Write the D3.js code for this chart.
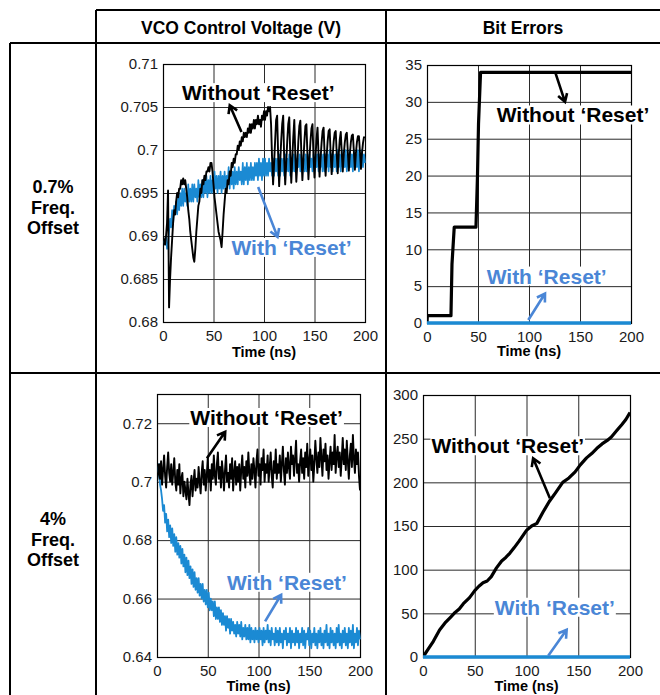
<!DOCTYPE html>
<html>
<head>
<meta charset="utf-8">
<script src="https://cdn.jsdelivr.net/npm/d3@7"></script>
<style>
  body { margin: 0; background: #fff; }
  svg { display: block; }
</style>
</head>
<body>
<svg id="chart" width="660" height="695"></svg>
<script>
// ---- data -------------------------------------------------------------

// shared time axis (ns)
var timeDomain = [0, 200];
var timeTicks = [0, 50, 100, 150, 200];

// simulator traces are sampled every 1 ns, 0..200 ns
var sampleTimes = d3.range(0, 201, 1);

// 0.7% offset, VCO control voltage, in mV
var vco07Ticks = [680, 685, 690, 695, 700, 705, 710];
var vco07TickLabels = ["0.68", "0.685", "0.69", "0.695", "0.7", "0.705", "0.71"];

var vco07Without = [
  690, 689.5, 689, 690, 691.5, 695.3, 681.7, 685, 687.5, 689.5,
  691.5, 693, 692.5, 694, 695, 694.5, 695.5, 695.5, 696.5, 696,
  696.7, 696, 696.5, 695.5, 694.5, 693, 692, 690.5, 689.5, 688.5,
  687.5, 687, 688.5, 690.5, 692, 693.5, 694, 695.5, 695, 696.5,
  696, 697, 696.5, 697.5, 697.5, 698, 697.5, 698.5, 698.5, 697.5,
  696, 694.5, 693.5, 692.5, 691.5, 690.5, 690, 689.5, 688.7, 690.5,
  692.5, 694, 695.5, 695, 696.5, 696, 697.5, 697, 698.5, 698,
  699, 698.5, 699.5, 699.5, 700.5, 700, 701, 700.5, 701.5, 701,
  702, 701.5, 702, 701.5, 702.5, 702, 703, 702, 703, 702.5,
  703.5, 702.5, 703.5, 703, 704, 703, 703.5, 702.7, 704, 703.5,
  704.5, 703.5, 704.5, 704, 705, 704.5, 705, 703, 699,
  696, 698.5, 701, 703.5, 704, 699.5,
  695.8, 698.5, 701, 703, 704, 699,
  696, 698.5, 701, 703, 703.8, 699.5,
  696.2, 699, 701.5, 703.5, 699.5,
  696.3, 698.5, 701, 702.8, 703.4, 699.5,
  696.5, 698.8, 701, 702.8, 703, 699.5,
  696.6, 699, 701, 702.5, 703, 699.3,
  696.8, 699.2, 701.3, 702.6, 699.5,
  696.9, 699, 700.8, 702.2, 702.6, 699.5,
  697, 699.2, 701, 702.2, 702.4, 699.6,
  697.2, 699.3, 701, 702, 702.2, 699.6,
  697.3, 699.5, 701.2, 702.1, 699.7,
  697.5, 699.5, 700.9, 701.8, 702, 699.8,
  697.6, 699.5, 700.9, 701.7, 701.8, 699.8,
  697.7, 699.6, 700.9, 701.6, 701.6, 699.8,
  697.8, 699.6, 700.8, 701.5, 701.4
];

var vco07With = [
  690, 689.5, 689, 690, 688.5, 689, 690.5, 692, 691, 693,
  691.5, 693.5, 692.5, 694, 692.5, 694.5, 693, 695, 693.5, 695.5,
  693.5, 695.5, 694, 695, 693.5, 696, 694, 695.5, 694, 696,
  694, 696, 694.5, 695.5, 694, 696.5, 694.5, 696, 694.5, 696.5,
  694.5, 696.5, 695, 697, 694.5, 696.5, 695, 697, 695, 696.5,
  695, 697.5, 695.5, 697, 695, 697, 695.5, 697.5, 695, 697,
  695.5, 697.5, 695.5, 697, 696, 698, 695.5, 697.5, 696, 697.5,
  695.5, 698, 696, 697.5, 696, 698, 696.5, 697.5, 696, 698.5,
  696, 698, 696.5, 698.5, 696, 698, 696.5, 698.5, 696.5, 698,
  696.5, 698.5, 697, 698.5, 696.5, 699, 697, 698.5, 696.5, 699,
  697, 699, 697, 698.5, 697, 699, 697.5, 698.5, 697, 699,
  697, 699, 697.5, 699, 697, 699.5, 697, 699, 697.5, 699,
  697, 699.5, 697.5, 699, 697.5, 699.5, 697, 699, 697.5, 699.5,
  697.5, 699.5, 697.5, 699, 698, 699.5, 697.5, 699.5, 698, 699,
  697.5, 699.5, 697.5, 699.5, 697.5, 699.5, 698, 699, 697.5, 699.5,
  697.5, 699.5, 698, 699.5, 697.5, 699.5, 698, 699.5, 697.5, 699.5,
  697.5, 699.5, 698, 699.5, 697.5, 700, 698, 699.5, 697.5, 699.5,
  698, 699.5, 697.5, 700, 698, 699.5, 697.5, 700, 698, 699.5,
  698, 700, 697.5, 699.5, 698, 700, 698, 699.5, 697.5, 700,
  698, 699.5, 698, 700, 697.5, 699.5, 698, 700, 698, 699.5, 698.5
];

// 0.7% offset, bit errors
var bits07Ticks = [0, 5, 10, 15, 20, 25, 30, 35];
var bits07Times = [0, 0.3, 23.5, 24.5, 26.7, 48, 49.5, 50.5, 52.5, 200];
var bits07Without = [0, 1, 1, 8, 13, 13, 20, 27, 34, 34];
var bits07WithTimes = [0, 200];
var bits07With = [0, 0];

// 4% offset, VCO control voltage, in mV
var vco4Ticks = [640, 660, 680, 700, 720];
var vco4TickLabels = ["0.64", "0.66", "0.68", "0.7", "0.72"];

var vco4Without = [
  700, 703, 706, 701, 707, 699, 704, 709, 702, 698,
  705, 710, 703, 700, 706, 699, 703, 708, 700, 697,
  704, 699, 706, 696, 701, 703, 695, 700, 697, 694,
  701, 696, 692, 699, 702, 695, 700, 704, 697, 701,
  698, 705, 700, 696, 703, 707, 699, 704, 697, 702,
  708, 700, 704, 697, 706, 701, 709, 702, 699, 706,
  710, 701, 705, 698, 707, 703, 697, 704, 709, 700,
  703, 698, 706, 701, 708, 697, 703, 707, 699, 705,
  700, 706, 697, 704, 709, 701, 705, 698, 707, 702,
  710, 703, 699, 706, 701, 708, 704, 698, 707, 711,
  702, 706, 699, 708, 704, 711, 700, 706, 703, 709,
  700, 705, 710, 702, 698, 707, 703, 711, 701, 706,
  703, 709, 700, 706, 712, 704, 699, 708, 703, 710,
  705, 701, 712, 706, 709, 702, 708, 714, 703, 706,
  700, 707, 711, 703, 708, 701, 710, 705, 713, 702,
  707, 711, 704, 709, 700, 706, 714, 708, 703, 710,
  705, 715, 708, 702, 711, 707, 713, 704, 709, 701,
  707, 712, 704, 710, 706, 716, 703, 709, 712, 705,
  710, 702, 708, 715, 706, 711, 704, 714, 707, 701,
  709, 713, 705, 716, 708, 703, 711, 706, 710, 702, 697
];

var vco4With = [
  700, 703, 706, 699, 697, 694, 690, 692, 686, 689,
  683, 687, 681, 685, 679, 684, 678, 682, 676, 681,
  675, 679, 674, 678, 672, 677, 671, 675, 669, 674,
  668, 673, 667, 671, 665, 670, 664, 669, 663, 667,
  662, 667, 661, 665, 660, 665, 659, 663, 658, 663,
  657, 662, 656, 660, 656, 659, 654, 659, 653, 657,
  653, 657, 652, 656, 651, 655, 651, 654, 649, 654,
  650, 653, 648, 653, 649, 652, 648, 651, 647, 652,
  648, 651, 647, 652, 646, 650, 647, 651, 646, 650,
  646, 651, 645, 650, 646, 649, 645, 650, 646, 649,
  645, 650, 646, 649, 644, 650, 645, 649, 646, 651,
  645, 649, 644, 650, 646, 648, 644, 650, 645, 649,
  644, 650, 645, 648, 643, 649, 646, 650, 644, 648,
  645, 650, 643, 649, 645, 648, 644, 650, 645, 649,
  643, 648, 645, 650, 644, 649, 643, 648, 646, 650,
  644, 649, 643, 648, 645, 650, 644, 648, 643, 649,
  645, 650, 644, 648, 643, 649, 645, 651, 644, 648,
  643, 650, 645, 649, 644, 648, 643, 650, 645, 651,
  644, 648, 643, 649, 645, 650, 644, 648, 643, 650,
  645, 649, 644, 651, 643, 648, 645, 650, 644, 649, 646
];

// 4% offset, bit errors
var bits4Ticks = [0, 50, 100, 150, 200, 250, 300];
var bits4Times = [0, 5, 10, 16, 22, 27, 31, 35, 39, 45, 50, 54, 58, 62, 66, 71, 76, 80, 84, 88,
  93, 100, 105, 110, 116, 122, 128, 135, 141, 147, 152, 158, 163, 168, 173, 178, 182, 187, 192, 196, 200];
var bits4Without = [0, 9, 18, 31, 40, 46, 51, 55, 61, 68, 76, 81, 85, 87, 92, 102, 110, 114, 119, 125,
  133, 145, 150, 153, 166, 178, 188, 200, 205, 212, 220, 228, 233, 239, 244, 248, 252, 259, 266, 272, 280];
var bits4WithTimes = [0, 200];
var bits4With = [0, 0];

// ---- drawing ----------------------------------------------------------

var FONT = "'Liberation Sans', Arial, Helvetica, sans-serif";
var BLUE_LINE = "#1b8ad3";
var BLUE_TEXT = "#4a86d6";
var svg = d3.select("#chart");

// table rules
var rules = [
  [96, 10, 660, 10], [96, 10, 96, 695], [386, 10, 386, 695],
  [10, 43, 660, 43], [10, 43, 10, 695], [10, 373, 660, 373]
];
svg.append("g").selectAll("line")
  .data(rules).enter().append("line")
  .attr("x1", d => d[0]).attr("y1", d => d[1])
  .attr("x2", d => d[2]).attr("y2", d => d[3])
  .attr("stroke", "#000").attr("stroke-width", 2);

// column headers
svg.append("text").attr("x", 241).attr("y", 34).text("VCO Control Voltage (V)");
svg.append("text").attr("x", 523).attr("y", 34).text("Bit Errors");
svg.selectAll("text")
  .attr("text-anchor", "middle")
  .style("font-family", FONT).style("font-weight", "bold").style("font-size", "17.5px");

// row headers
function rowHeader(lines, y0) {
  var t = svg.append("text")
    .attr("text-anchor", "middle")
    .style("font-family", FONT).style("font-weight", "bold").style("font-size", "18px");
  lines.forEach(function(s, i) {
    t.append("tspan").attr("x", 53).attr("y", y0 + i * 20.5).text(s);
  });
}
rowHeader(["0.7%", "Freq.", "Offset"], 193);
rowHeader(["4%", "Freq.", "Offset"], 525);

function zip(times, values) {
  return times.map(function(t, i) { return { t: t, v: values[i] }; });
}

// open "V" arrowhead at the end of a straight arrow
function arrow(g, x1, y1, x2, y2, color) {
  var a = Math.atan2(y2 - y1, x2 - x1), L = 9;
  var path = "M" + x1 + "," + y1 + "L" + x2 + "," + y2 +
    "M" + (x2 - L * Math.cos(a - 0.55)) + "," + (y2 - L * Math.sin(a - 0.55)) +
    "L" + x2 + "," + y2 +
    "L" + (x2 - L * Math.cos(a + 0.55)) + "," + (y2 - L * Math.sin(a + 0.55));
  g.append("path").attr("d", path)
    .attr("fill", "none").attr("stroke", color)
    .attr("stroke-width", 2.6).attr("stroke-linejoin", "miter");
}

function label(g, x, y, txt, color) {
  var bg = g.append("rect").attr("fill", "#fff");
  var t = g.append("text").attr("x", x).attr("y", y).text(txt)
    .style("font-family", FONT).style("font-weight", "bold").style("font-size", "21px")
    .attr("fill", color);
  var b = t.node().getBBox();
  bg.attr("x", b.x - 1).attr("y", b.y + 2).attr("width", b.width + 2).attr("height", b.height - 4);
}

var clipId = 0;
function drawPanel(p) {
  var g = svg.append("g");
  var x = d3.scaleLinear().domain(timeDomain).range([p.left, p.right]);
  var y = d3.scaleLinear().domain(p.yDomain).range([p.bottom, p.top]);
  var w = p.right - p.left, h = p.bottom - p.top;

  // x grid + tick labels
  var ax = g.append("g")
    .attr("transform", "translate(0," + p.bottom + ")")
    .call(d3.axisBottom(x).tickValues(timeTicks).tickSize(-h).tickPadding(8));
  // y grid + tick labels
  var yAxis = d3.axisLeft(y).tickValues(p.yTicks).tickSize(-w).tickPadding(5);
  if (p.yTickLabels) yAxis.tickFormat(function(d, i) { return p.yTickLabels[i]; });
  var ay = g.append("g")
    .attr("transform", "translate(" + p.left + ",0)")
    .call(yAxis);
  [ax, ay].forEach(function(a) {
    a.select(".domain").remove();
    a.selectAll(".tick line").attr("stroke", "#2a2a2a").attr("stroke-width", 1);
    a.selectAll(".tick text").attr("fill", "#1a1a1a")
      .style("font-family", FONT).style("font-size", "15px");
  });

  g.append("text")
    .attr("x", (p.left + p.right) / 2).attr("y", p.bottom + p.titleOffset)
    .attr("text-anchor", "middle")
    .style("font-family", FONT).style("font-weight", "bold").style("font-size", "14.5px")
    .text("Time (ns)");

  // plot frame (under the traces, so the zero lines sit on top of it)
  g.append("rect")
    .attr("x", p.left + 0.5).attr("y", p.top + 0.5).attr("width", w).attr("height", h)
    .attr("fill", "none").attr("stroke", "#000").attr("stroke-width", 1.2);

  // traces
  var id = "clip" + (clipId++);
  g.append("clipPath").attr("id", id).append("rect")
    .attr("x", p.left).attr("y", p.top - 3).attr("width", w + 1).attr("height", h + 6);
  var line = d3.line().x(d => x(d.t)).y(d => y(d.v));
  var traces = g.append("g").attr("clip-path", "url(#" + id + ")");
  p.series.forEach(function(s) {
    traces.append("path").datum(s.points)
      .attr("d", line)
      .attr("fill", "none")
      .attr("stroke", s.color)
      .attr("stroke-width", s.width)
      .attr("stroke-linejoin", "round");
  });

  // annotations
  p.notes.forEach(function(n) {
    label(g, x(n.at[0]), y(n.at[1]), n.text, n.color);
    arrow(g, x(n.from[0]), y(n.from[1]), x(n.to[0]), y(n.to[1]), n.color);
  });
}

var withoutTxt = "Without \u2018Reset\u2019";
var withTxt = "With \u2018Reset\u2019";

drawPanel({
  left: 163, right: 365, top: 64, bottom: 322, titleOffset: 35,
  yDomain: [680, 710], yTicks: vco07Ticks, yTickLabels: vco07TickLabels,
  series: [
    { points: zip(sampleTimes, vco07With), color: BLUE_LINE, width: 1.7 },
    { points: zip(sampleTimes, vco07Without), color: "#000", width: 1.9 }
  ],
  notes: [
    { text: withoutTxt, color: "#000", at: [18.8, 705.8], from: [77.7, 702.1], to: [66.1, 705.2] },
    { text: withTxt, color: BLUE_TEXT, at: [67.8, 687.8], from: [94.2, 695.7], to: [113.4, 689.9] }
  ]
});

drawPanel({
  left: 427, right: 631, top: 65, bottom: 323, titleOffset: 33,
  yDomain: [0, 35], yTicks: bits07Ticks,
  series: [
    { points: zip(bits07Times, bits07Without), color: "#000", width: 3.2 },
    { points: zip(bits07WithTimes, bits07With), color: BLUE_LINE, width: 3.4 }
  ],
  notes: [
    { text: withoutTxt, color: "#000", at: [68.3, 27.2], from: [125.5, 34.1], to: [135.3, 30] },
    { text: withTxt, color: BLUE_TEXT, at: [58.5, 5.35], from: [99.3, 0.4], to: [115.7, 4] }
  ]
});

drawPanel({
  left: 157, right: 360, top: 394, bottom: 657, titleOffset: 34,
  yDomain: [640, 730], yTicks: vco4Ticks, yTickLabels: vco4TickLabels,
  series: [
    { points: zip(sampleTimes, vco4With), color: BLUE_LINE, width: 1.8 },
    { points: zip(sampleTimes, vco4Without), color: "#000", width: 1.9 }
  ],
  notes: [
    { text: withoutTxt, color: "#000", at: [32.8, 719.4], from: [49.2, 708], to: [67.2, 717.1] },
    { text: withTxt, color: BLUE_TEXT, at: [68.9, 663], from: [106.5, 652.2], to: [122.3, 661.3] }
  ]
});

drawPanel({
  left: 423, right: 630, top: 395, bottom: 657, titleOffset: 34,
  yDomain: [0, 300], yTicks: bits4Ticks,
  series: [
    { points: zip(bits4Times, bits4Without), color: "#000", width: 3.2 },
    { points: zip(bits4WithTimes, bits4With), color: BLUE_LINE, width: 3.4 }
  ],
  notes: [
    { text: withoutTxt, color: "#000", at: [8.1, 233.3], from: [122.6, 181.9], to: [106.4, 227.6] },
    { text: withTxt, color: BLUE_TEXT, at: [69.4, 48.4], from: [121, 1.5], to: [138.8, 31.2] }
  ]
});
</script>
</body>
</html>
